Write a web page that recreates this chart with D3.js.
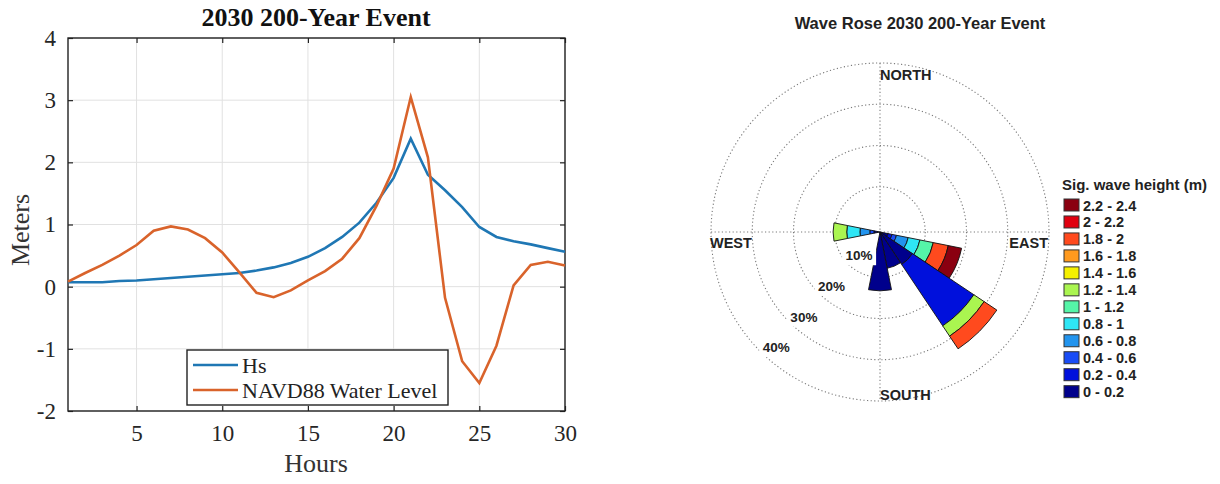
<!DOCTYPE html>
<html>
<head>
<meta charset="utf-8">
<script src="https://cdn.jsdelivr.net/npm/d3@7/dist/d3.min.js"></script>
<style>
  body { margin: 0; background: #fff; }
  svg { display: block; }
</style>
</head>
<body>
<svg id="chart" width="1220" height="484"></svg>
<script>
// ---- Time series: 2030 200-year event ----
const hours = [1,2,3,4,5,6,7,8,9,10,11,12,13,14,15,16,17,18,19,20,21,22,23,24,25,26,27,28,29,30];
const hsValues = [0.07,0.07,0.07,0.09,0.10,0.12,0.14,0.16,0.18,0.20,0.22,0.26,0.31,0.38,0.48,0.62,0.80,1.03,1.35,1.75,2.38,1.80,1.55,1.28,0.96,0.80,0.73,0.68,0.62,0.56];
const waterLevel = [0.08,0.22,0.35,0.50,0.67,0.90,0.97,0.92,0.78,0.55,0.23,-0.10,-0.17,-0.06,0.10,0.25,0.45,0.78,1.30,1.90,3.05,2.08,-0.18,-1.20,-1.55,-0.95,0.02,0.35,0.40,0.34];
const hourTicks = [5,10,15,20,25,30];
const meterTicks = [-2,-1,0,1,2,3,4];
const seriesNames = ["Hs", "NAVD88 Water Level"];

// ---- Wave rose ----
const heightClasses = ["0 - 0.2","0.2 - 0.4","0.4 - 0.6","0.6 - 0.8","0.8 - 1","1 - 1.2","1.2 - 1.4","1.4 - 1.6","1.6 - 1.8","1.8 - 2","2 - 2.2","2.2 - 2.4"];
const classColors = ["#00008c","#0010dc","#1a4cf5","#2294ee","#2ee6f5","#55f5a8","#aaf550","#f5f000","#ff9a1e","#ff4a1e","#e00010","#8a0010"];
// compass direction (degrees) of each populated sector
const sectorDirections = [112.5, 135, 157.5, 180, 270];
// percent of occurrence per height class, one row per sector
const sectorFreqs = [
  [1.0, 1.0, 1.1, 2.9, 2.9, 3.3, 0, 0, 0, 3.7, 0, 3.3],
  [8.5, 17.9, 0, 0, 0, 0, 3.0, 0, 0, 3.7, 0, 0],
  [8.0, 0, 0, 0, 0, 0, 0, 0, 0, 0, 0, 0],
  [13.3, 0, 0, 0, 0, 0, 0, 0, 0, 0, 0, 0],
  [0.5, 0, 1.0, 2.4, 3.2, 0, 3.3, 0, 0, 0, 0, 0]
];
const ringPercents = [10, 20, 30, 40];

const svg = d3.select("#chart");

// ================= Left panel =================
const serif = "'Liberation Serif','Times New Roman',serif";
const x = d3.scaleLinear().domain([1, 30]).range([68, 565]);
const y = d3.scaleLinear().domain([-2, 4]).range([411, 38]);

const left = svg.append("g");

// grid
left.append("g").selectAll("line").data(hourTicks).join("line")
  .attr("x1", d => x(d)).attr("x2", d => x(d))
  .attr("y1", y.range()[0]).attr("y2", y.range()[1])
  .attr("stroke", "#e1e1e1").attr("stroke-width", 1);
left.append("g").selectAll("line").data(meterTicks).join("line")
  .attr("y1", d => y(d)).attr("y2", d => y(d))
  .attr("x1", x.range()[0]).attr("x2", x.range()[1])
  .attr("stroke", "#e1e1e1").attr("stroke-width", 1);

// axes (ticks pointing inward, on all four sides)
const plain = d => String(d);
function styleAxis(g) {
  g.select(".domain").remove();
  g.selectAll(".tick line").attr("stroke", "#222").attr("stroke-width", 1.2);
  g.selectAll(".tick text").attr("font-family", serif).attr("font-size", 23).attr("fill", "#262626");
}
left.append("g").attr("transform", `translate(0,${y(-2)})`)
  .call(d3.axisBottom(x).tickValues(hourTicks).tickFormat(plain).tickSizeInner(-5).tickSizeOuter(0).tickPadding(14))
  .call(styleAxis);
left.append("g").attr("transform", `translate(0,${y(4)})`)
  .call(d3.axisTop(x).tickValues(hourTicks).tickSizeInner(-5).tickSizeOuter(0).tickFormat(""))
  .call(styleAxis);
left.append("g").attr("transform", `translate(${x(1)},0)`)
  .call(d3.axisLeft(y).tickValues(meterTicks).tickFormat(plain).tickSizeInner(-5).tickSizeOuter(0).tickPadding(12))
  .call(styleAxis);
left.append("g").attr("transform", `translate(${x(30)},0)`)
  .call(d3.axisRight(y).tickValues(meterTicks).tickSizeInner(-5).tickSizeOuter(0).tickFormat(""))
  .call(styleAxis);

// frame
left.append("rect")
  .attr("x", x(1)).attr("y", y(4))
  .attr("width", x(30) - x(1)).attr("height", y(-2) - y(4))
  .attr("fill", "none").attr("stroke", "#222").attr("stroke-width", 1.4);

// series
const line = d3.line().x((d, i) => x(hours[i])).y(d => y(d));
left.append("path").datum(hsValues).attr("d", line)
  .attr("fill", "none").attr("stroke", "#1f77b4").attr("stroke-width", 2.6);
left.append("path").datum(waterLevel).attr("d", line)
  .attr("fill", "none").attr("stroke", "#d9632b").attr("stroke-width", 2.6);

// labels
left.append("text").attr("x", 316).attr("y", 26).attr("text-anchor", "middle")
  .attr("font-family", serif).attr("font-weight", "bold").attr("font-size", 26).attr("fill", "#111")
  .text("2030 200-Year Event");
left.append("text").attr("x", 316).attr("y", 472).attr("text-anchor", "middle")
  .attr("font-family", serif).attr("font-size", 26).attr("fill", "#333").text("Hours");
left.append("text").attr("transform", "translate(29,230) rotate(-90)").attr("text-anchor", "middle")
  .attr("font-family", serif).attr("font-size", 26).attr("fill", "#333").text("Meters");

// legend
const lg = left.append("g");
lg.append("rect").attr("x", 187).attr("y", 350).attr("width", 261).attr("height", 55)
  .attr("fill", "#fff").attr("stroke", "#222").attr("stroke-width", 1.4);
const legendColors = ["#1f77b4", "#d9632b"];
seriesNames.forEach((name, i) => {
  const ly = 365 + i * 25;
  lg.append("line").attr("x1", 193).attr("x2", 238).attr("y1", ly).attr("y2", ly)
    .attr("stroke", legendColors[i]).attr("stroke-width", 2.6);
  lg.append("text").attr("x", 242).attr("y", ly + 8)
    .attr("font-family", serif).attr("font-size", 22).attr("fill", "#222").text(name);
});

// ================= Right panel: wave rose =================
const sans = "'Liberation Sans',Arial,sans-serif";
const cx = 880, cy = 232;
const r = d3.scaleLinear().domain([0, 40]).range([4, 169]);
const rose = svg.append("g").attr("transform", `translate(${cx},${cy})`);

// rings and axes
const gridStroke = g => g.attr("stroke", "#7a7a7a").attr("stroke-width", 1.1).attr("stroke-dasharray", "1.2,2.4");
rose.selectAll("circle").data(ringPercents).join("circle")
  .attr("r", d => r(d)).attr("fill", "none").call(gridStroke);
rose.append("line").attr("x1", -r(40)).attr("x2", r(40)).attr("y1", 0).attr("y2", 0).call(gridStroke);
rose.append("line").attr("y1", -r(40)).attr("y2", r(40)).attr("x1", 0).attr("x2", 0).call(gridStroke);

// stacked sectors
const arc = d3.arc();
const half = 11.25 * Math.PI / 180;
sectorDirections.forEach((dir, si) => {
  let cum = 0;
  const a = dir * Math.PI / 180;
  sectorFreqs[si].forEach((f, ci) => {
    if (f <= 0) return;
    const inner = cum === 0 ? 0 : r(cum);
    cum += f;
    rose.append("path")
      .attr("d", arc({ innerRadius: inner, outerRadius: r(cum), startAngle: a - half, endAngle: a + half }))
      .attr("fill", classColors[ci]).attr("stroke", "#111").attr("stroke-width", 0.9)
      .attr("stroke-linejoin", "round");
  });
});

// percent labels along the south-west ray
const labAng = 222 * Math.PI / 180;
ringPercents.forEach(p => {
  const R = r(p) - 14;
  const lx = R * Math.sin(labAng), ly = -R * Math.cos(labAng);
  const g = rose.append("g").attr("transform", `translate(${lx},${ly})`);
  g.append("rect").attr("x", -17).attr("y", -11).attr("width", 34).attr("height", 21).attr("fill", "#fff");
  g.append("text").attr("text-anchor", "middle").attr("y", 5)
    .attr("font-family", sans).attr("font-weight", "bold").attr("font-size", 13.5).attr("fill", "#222")
    .text(p + "%");
});

// compass labels
const compass = [
  { t: "NORTH", x: 0, y: -152, a: "start" },
  { t: "SOUTH", x: 0, y: 168, a: "start" },
  { t: "WEST", x: -170, y: 16, a: "start" },
  { t: "EAST", x: 168, y: 16, a: "end" }
];
compass.forEach(c => {
  rose.append("text").attr("x", c.x).attr("y", c.y).attr("text-anchor", c.a)
    .attr("font-family", sans).attr("font-weight", "bold").attr("font-size", 14.5).attr("fill", "#222")
    .text(c.t);
});

// title
svg.append("text").attr("x", 920).attr("y", 29).attr("text-anchor", "middle")
  .attr("font-family", sans).attr("font-weight", "bold").attr("font-size", 16.5).attr("fill", "#222")
  .text("Wave Rose 2030 200-Year Event");

// legend
const rl = svg.append("g");
rl.append("text").attr("x", 1062).attr("y", 190)
  .attr("font-family", sans).attr("font-weight", "bold").attr("font-size", 15).attr("fill", "#222")
  .text("Sig. wave height (m)");
heightClasses.slice().reverse().forEach((lab, i) => {
  const ci = heightClasses.length - 1 - i;
  const yy = 205 + i * 16.97;
  rl.append("rect").attr("x", 1064).attr("y", yy - 6).attr("width", 15).attr("height", 12)
    .attr("fill", classColors[ci]).attr("stroke", "#333").attr("stroke-width", 1);
  rl.append("text").attr("x", 1083).attr("y", yy + 5.5)
    .attr("font-family", sans).attr("font-weight", "bold").attr("font-size", 14.5).attr("fill", "#222")
    .text(lab);
});
</script>
</body>
</html>
